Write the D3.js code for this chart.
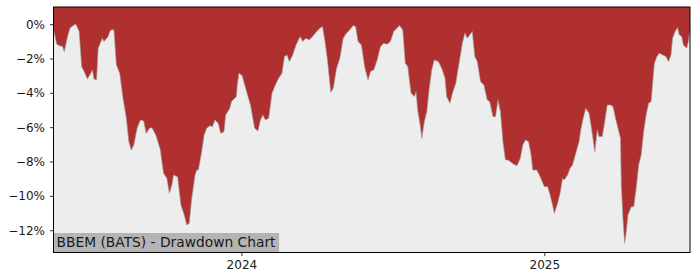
<!DOCTYPE html>
<html><head><meta charset="utf-8">
<script src="https://cdn.jsdelivr.net/npm/d3@7"></script>
<style>body{margin:0;background:#fff}svg{display:block}</style>
</head><body>
<svg id="c" width="700" height="280"></svg>
<script>
const dates = ["2023-05-19","2023-05-23","2023-05-26","2023-05-30","2023-06-01","2023-06-05","2023-06-08","2023-06-13","2023-06-15","2023-06-19","2023-06-22","2023-06-26","2023-06-29","2023-07-03","2023-07-05","2023-07-07","2023-07-10","2023-07-12","2023-07-17","2023-07-19","2023-07-24","2023-07-26","2023-07-28","2023-07-31","2023-08-03","2023-08-07","2023-08-11","2023-08-15","2023-08-18","2023-08-21","2023-08-24","2023-08-28","2023-09-01","2023-09-05","2023-09-08","2023-09-12","2023-09-15","2023-09-20","2023-09-25","2023-09-27","2023-09-29","2023-10-03","2023-10-06","2023-10-09","2023-10-11","2023-10-16","2023-10-18","2023-10-20","2023-10-24","2023-10-27","2023-10-30","2023-11-02","2023-11-06","2023-11-08","2023-11-10","2023-11-14","2023-11-17","2023-11-20","2023-11-24","2023-11-27","2023-11-30","2023-12-04","2023-12-07","2023-12-11","2023-12-13","2023-12-18","2023-12-20","2023-12-26","2023-12-27","2023-12-29","2024-01-02","2024-01-05","2024-01-09","2024-01-12","2024-01-17","2024-01-21","2024-01-24","2024-01-27","2024-01-30","2024-02-03","2024-02-07","2024-02-11","2024-02-15","2024-02-19","2024-02-22","2024-02-25","2024-02-28","2024-03-03","2024-03-07","2024-03-12","2024-03-15","2024-03-19","2024-03-23","2024-03-27","2024-04-01","2024-04-05","2024-04-08","2024-04-11","2024-04-14","2024-04-18","2024-04-21","2024-04-25","2024-04-29","2024-05-03","2024-05-07","2024-05-11","2024-05-15","2024-05-18","2024-05-21","2024-05-25","2024-05-29","2024-06-02","2024-06-05","2024-06-09","2024-06-13","2024-06-17","2024-06-21","2024-06-25","2024-06-29","2024-07-03","2024-07-07","2024-07-10","2024-07-14","2024-07-17","2024-07-20","2024-07-24","2024-07-28","2024-07-30","2024-08-01","2024-08-04","2024-08-06","2024-08-09","2024-08-12","2024-08-15","2024-08-18","2024-08-21","2024-08-26","2024-08-30","2024-09-03","2024-09-05","2024-09-09","2024-09-12","2024-09-16","2024-09-20","2024-09-24","2024-09-27","2024-09-30","2024-10-03","2024-10-06","2024-10-09","2024-10-12","2024-10-16","2024-10-20","2024-10-24","2024-10-27","2024-10-31","2024-11-03","2024-11-06","2024-11-09","2024-11-12","2024-11-15","2024-11-18","2024-11-21","2024-11-25","2024-11-29","2024-12-03","2024-12-06","2024-12-09","2024-12-13","2024-12-16","2024-12-18","2024-12-23","2024-12-27","2025-01-01","2025-01-05","2025-01-08","2025-01-11","2025-01-13","2025-01-17","2025-01-20","2025-01-23","2025-01-25","2025-01-29","2025-02-01","2025-02-04","2025-02-08","2025-02-12","2025-02-14","2025-02-17","2025-02-20","2025-02-24","2025-02-27","2025-03-01","2025-03-03","2025-03-06","2025-03-08","2025-03-12","2025-03-15","2025-03-18","2025-03-22","2025-03-25","2025-03-28","2025-03-31","2025-04-03","2025-04-04","2025-04-06","2025-04-08","2025-04-10","2025-04-12","2025-04-16","2025-04-19","2025-04-22","2025-04-25","2025-04-28","2025-05-01","2025-05-04","2025-05-07","2025-05-10","2025-05-12","2025-05-14","2025-05-17","2025-05-20","2025-05-24","2025-05-28","2025-05-31","2025-06-03","2025-06-05","2025-06-08","2025-06-11","2025-06-13","2025-06-16","2025-06-18","2025-06-22","2025-06-24","2025-06-26"];
const drawdown = [-0.33,-1.17,-1.25,-1.3,-1.6,-0.72,-0.23,-0.04,0,-0.43,-2.47,-2.86,-3.19,-2.86,-2.66,-3.19,-3.25,-1.4,-0.82,-1.01,-0.72,-0.43,-0.33,-0.33,-2.37,-2.86,-4.31,-5.48,-6.84,-7.33,-7.04,-6.06,-5.58,-5.64,-6.36,-6.06,-6.03,-6.5,-7.3,-8.01,-8.69,-8.98,-9.85,-9.37,-8.79,-8.89,-9.76,-10.54,-11.12,-11.7,-11.6,-10.15,-8.79,-8.5,-8.5,-7.43,-6.45,-6.06,-5.91,-5.97,-5.58,-5.77,-6.36,-6.26,-5.29,-4.9,-4.51,-4.22,-3.54,-2.86,-3.0,-3.54,-4.22,-4.71,-6.06,-6.22,-5.58,-5.29,-5.58,-5.48,-4.02,-3.54,-3.15,-2.86,-1.89,-1.79,-2.18,-1.79,-1.21,-0.72,-1.01,-0.82,-0.92,-0.72,-0.43,-0.23,-0.14,-1.01,-2.08,-3.97,-3.73,-2.57,-1.98,-0.82,-0.52,-0.33,-0.08,-0.14,-1.01,-1.21,-2.5,-3.25,-2.76,-2.66,-2.08,-1.31,-1.11,-1.17,-1.01,-0.43,-0.23,-0.08,-0.33,-2.27,-2.47,-4.02,-4.22,-3.93,-5.0,-5.87,-6.65,-5.68,-5.1,-3.73,-2.66,-2.08,-2.18,-2.57,-3.15,-4.22,-4.61,-4.02,-3.44,-2.27,-1.11,-0.52,-0.82,-0.62,-0.43,-1.89,-2.18,-3.35,-3.54,-4.41,-4.51,-5.39,-5.39,-4.41,-5.1,-6.84,-7.91,-7.91,-8.01,-8.16,-8.24,-7.81,-7.04,-6.75,-6.84,-7.62,-8.5,-8.5,-8.89,-9.47,-9.47,-9.95,-10.54,-11.02,-10.44,-9.85,-8.98,-9.08,-8.79,-8.4,-8.2,-7.52,-6.84,-6.16,-5.48,-4.9,-5.19,-6.06,-6.75,-7.43,-6.16,-6.55,-6.55,-5.68,-4.71,-4.71,-4.8,-5.48,-6.06,-6.65,-9.37,-11.31,-12.77,-12.09,-11.12,-10.64,-10.64,-9.56,-8.2,-7.62,-6.26,-5.29,-4.61,-4.51,-3.35,-2.27,-1.89,-1.69,-1.79,-1.89,-2.18,-1.79,-0.82,-0.43,-0.2,-0.62,-0.72,-1.21,-1.4,-1.01,-0.33];
const yTicks = [0,-2,-4,-6,-8,-10,-12];
const xTicks = ["2024-01-01","2025-01-01"];
const title = "BBEM (BATS) - Drawdown Chart";

const parse = d3.timeParse("%Y-%m-%d");
const data = dates.map((d,i)=>({date:parse(d), v:drawdown[i]}));
const svg = d3.select("#c");
const L=53.5, R=690, T=7, B=252.5;
const x = d3.scaleTime().domain(d3.extent(data,d=>d.date)).range([L,R]);
const y = d3.scaleLinear().domain([-13.3,1]).range([B,T]);

svg.append("rect").attr("x",L).attr("y",T).attr("width",R-L).attr("height",B-T).attr("fill","#ededed");
const area = d3.area().x(d=>x(d.date)).y0(y(1)).y1(d=>y(d.v));
svg.append("path").datum(data).attr("d",area).attr("fill","#b03030");
svg.append("path").datum(data).attr("d",d3.line().x(d=>x(d.date)).y(d=>y(d.v)))
  .attr("fill","none").attr("stroke","#9a9a9a").attr("stroke-width",0.8).attr("stroke-opacity",0.8);

// title box
const tg = svg.append("g");
const tt = tg.append("text").attr("x",L+3).attr("y",B-6).text(title)
  .attr("font-family","DejaVu Sans").attr("font-size",13.8).attr("fill","#1a1a1a");
const bb = tt.node().getBBox();
tg.insert("rect","text").attr("x",L).attr("y",B-19.5).attr("width",bb.width+6).attr("height",19.5).attr("fill","#b4b4b4");

// frame
svg.append("rect").attr("x",L).attr("y",T).attr("width",R-L).attr("height",B-T)
  .attr("fill","none").attr("stroke","#000").attr("stroke-width",1);

const yAxis = d3.axisLeft(y).tickValues(yTicks).tickSize(3.5).tickPadding(5)
  .tickFormat(d=>(d<0?"\u2212"+Math.abs(d):d)+"%");
const gy = svg.append("g").attr("transform",`translate(${L},0)`).call(yAxis);
const xAxis = d3.axisBottom(x).tickValues(xTicks.map(parse)).tickSize(3.5).tickPadding(4)
  .tickFormat(d3.timeFormat("%Y"));
const gx = svg.append("g").attr("transform",`translate(0,${B})`).call(xAxis);
[gx,gy].forEach(g=>{
  g.select(".domain").remove();
  g.selectAll("text").attr("font-family","DejaVu Sans").attr("font-size",12).attr("fill","#1a1a1a");
  g.selectAll("line").attr("stroke","#000").attr("stroke-width",0.8);
});
</script>
</body></html>
